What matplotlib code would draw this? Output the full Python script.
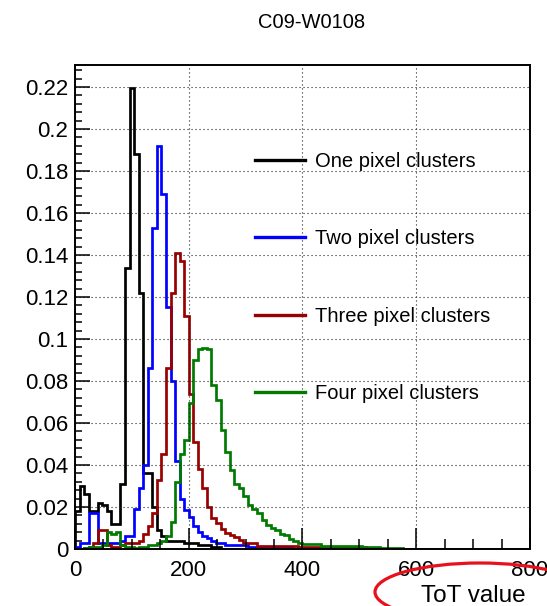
import numpy as np
import matplotlib
matplotlib.use("Agg")
import matplotlib.pyplot as plt
from matplotlib.patches import Ellipse

plt.rcParams['font.family'] = ['Liberation Sans', 'DejaVu Sans']

# ToT histograms, 8 ToT units per bin starting at 0 (values past the list are zero)
bin_width = 8
n_bins = 100

one_pix = [0.018, 0.030, 0.026, 0.018, 0.018, 0.022, 0.021, 0.018, 0.012, 0.012,
           0.031, 0.134, 0.2195, 0.188, 0.122, 0.036, 0.036, 0.020, 0.009, 0.006,
           0.004, 0.004, 0.004, 0.004, 0.003, 0.003, 0.003, 0.002, 0.002, 0.002,
           0.001, 0.001]

two_pix = [0.001, 0.003, 0.003, 0.017, 0.017, 0.003, 0.003, 0.003, 0.003, 0.003,
           0.004, 0.006, 0.006, 0.019, 0.029, 0.040, 0.086, 0.153, 0.192, 0.169,
           0.115, 0.080, 0.042, 0.024, 0.0186, 0.015, 0.011, 0.008, 0.006, 0.005,
           0.004, 0.003, 0.003, 0.002, 0.002, 0.002, 0.002, 0.002, 0.001, 0.001,
           0.001, 0.001, 0.001, 0.001, 0.001, 0.001, 0.001, 0.001]

three_pix = [0.0, 0.0, 0.0005, 0.001, 0.003, 0.009, 0.009, 0.002, 0.001, 0.001,
             0.002, 0.003, 0.003, 0.003, 0.004, 0.007, 0.011, 0.017, 0.033, 0.045,
             0.086, 0.122, 0.141, 0.137, 0.111, 0.074, 0.051, 0.038, 0.029, 0.020,
             0.0147, 0.0124, 0.0095, 0.0076, 0.0065, 0.0055, 0.0043, 0.0027, 0.0027, 0.0027,
             0.0015, 0.0015, 0.0015, 0.0015, 0.0015, 0.0015, 0.0015, 0.0015, 0.0015, 0.0008,
             0.0008, 0.0008, 0.0008, 0.0008, 0.0008, 0.0008, 0.0008, 0.0008, 0.0008, 0.0008,
             0.0008, 0.0008, 0.0008, 0.0008, 0.0003]

four_pix = [0.0, 0.0, 0.0005, 0.001, 0.001, 0.001, 0.002, 0.008, 0.007, 0.008,
            0.002, 0.001, 0.001, 0.0005, 0.001, 0.001, 0.002, 0.002, 0.003, 0.004,
            0.006, 0.013, 0.032, 0.045, 0.052, 0.0695, 0.090, 0.095, 0.0957, 0.095,
            0.078, 0.071, 0.0567, 0.046, 0.0376, 0.031, 0.029, 0.025, 0.021, 0.019,
            0.017, 0.0138, 0.0114, 0.010, 0.009, 0.0072, 0.0065, 0.0048, 0.004, 0.003,
            0.0024, 0.0024, 0.0024, 0.0024, 0.0014, 0.0014, 0.0014, 0.0014, 0.0014, 0.0014,
            0.0014, 0.0014, 0.0014, 0.001, 0.001, 0.001, 0.001, 0.0005, 0.0005, 0.0005,
            0.0005, 0.0005]

labels = ['One pixel clusters', 'Two pixel clusters', 'Three pixel clusters', 'Four pixel clusters']
colors = ['black', '#0000ff', '#990000', '#007a00']

edges = np.arange(n_bins + 1) * bin_width

fig = plt.figure(figsize=(5.47, 6.06), dpi=100)
ax = fig.add_axes([0.1371, 0.0941, 0.8318, 0.7987])

ymax = 0
for vals, lab, col in zip([one_pix, two_pix, three_pix, four_pix], labels, colors):
    h = np.zeros(n_bins)
    h[:len(vals)] = vals  # rest of the range is empty
    ax.stairs(h, edges, color=col, linewidth=1.95, label=lab, baseline=0)
    ymax = max(ymax, h.max())

ax.set_xlim(0, 800)
ax.set_ylim(0, 1.05 * ymax)
ax.set_xticks([0, 200, 400, 600, 800])
ax.set_xticks(np.arange(0, 801, 50), minor=True)
ax.set_yticks(np.arange(0, 0.221, 0.02))
ax.set_yticks(np.arange(0, 0.229, 0.004), minor=True)
ax.set_yticklabels(['0', '0.02', '0.04', '0.06', '0.08', '0.1', '0.12', '0.14',
                    '0.16', '0.18', '0.2', '0.22'])

ax.grid(True, which='major', color='#222222', linestyle=(0, (1, 2.6)), linewidth=0.8)
ax.tick_params(which='both', direction='in', top=False, right=False, width=1.1, labelsize=16)
ax.xaxis.set_tick_params(which='major', length=15, pad=8)
ax.xaxis.set_tick_params(which='minor', length=7)
ax.yaxis.set_tick_params(which='major', length=10.5, pad=5)
ax.yaxis.set_tick_params(which='minor', length=5)
for s in ax.spines.values():
    s.set_linewidth(1.4)

ax.set_xlabel('ToT value', fontsize=17.5, loc='right')
ax.xaxis.set_label_coords(0.99, -0.075)

ax.legend(loc='upper left', bbox_to_anchor=(0.395, 0.82), frameon=False,
          fontsize=14.5, labelspacing=2.9, handlelength=2.5, handletextpad=0.5,
          borderpad=0, borderaxespad=0)
for line in ax.get_legend().get_lines():
    line.set_linewidth(2.4)

fig.text(0.569, 1 - 22 / 606, 'C09-W0108', fontsize=14.5, ha='center', va='center')

# red ellipse drawn around the axis title
ell = Ellipse((480 / 547, 1 - 592 / 606), 210 / 547, 58 / 606, transform=fig.transFigure,
              fill=False, edgecolor='#e8101a', linewidth=2.3, clip_on=False)
fig.patches.append(ell)

fig.savefig('out.png', dpi=100)
